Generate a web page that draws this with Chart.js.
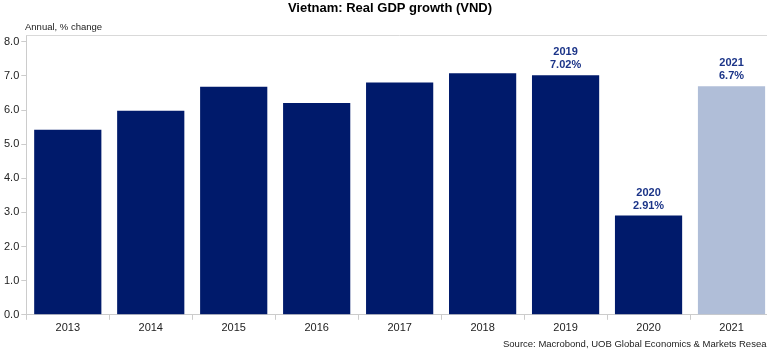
<!DOCTYPE html>
<html>
<head>
<meta charset="utf-8">
<script src="https://cdn.jsdelivr.net/npm/chart.js@4/dist/chart.umd.min.js"></script>
<style>
  html, body { margin: 0; padding: 0; background: #fff; overflow: hidden; }
  #clip { width: 767px; height: 354px; overflow: hidden; position: relative; }
  #wrap { width: 773px; height: 354px; position: relative; }
</style>
</head>
<body>
<div id="clip"><div id="wrap"><canvas id="gdp"></canvas></div></div>
<script>
// ============= DATA =============
const years = ['2013','2014','2015','2016','2017','2018','2019','2020','2021'];
const growth = [5.42, 5.98, 6.68, 6.21, 6.81, 7.08, 7.02, 2.91, 6.70];
const barColors = ['#001a6b','#001a6b','#001a6b','#001a6b','#001a6b','#001a6b','#001a6b','#001a6b','#b0bed8'];
const callouts = { 6: ['2019','7.02%'], 7: ['2020','2.91%'], 8: ['2021','6.7%'] };
const yTicks = [0,1,2,3,4,5,6,7,8];

const FONT = '"Liberation Sans", Arial, sans-serif';

// title, subtitle, source, top frame line and bar callouts
const decor = {
  id: 'decor',
  afterDraw(chart){
    const ctx = chart.ctx, a = chart.chartArea;
    ctx.save();
    ctx.strokeStyle = '#d9d9d9';
    ctx.lineWidth = 1;
    ctx.beginPath();
    ctx.moveTo(a.left, a.top + 0.5);
    ctx.lineTo(a.right, a.top + 0.5);
    ctx.stroke();

    ctx.fillStyle = '#000';
    ctx.font = 'bold 13px ' + FONT;
    ctx.textAlign = 'center';
    ctx.textBaseline = 'middle';
    ctx.fillText('Vietnam: Real GDP growth (VND)', 390, 8);

    ctx.fillStyle = '#222';
    ctx.font = '9.5px ' + FONT;
    ctx.textAlign = 'left';
    ctx.fillText('Annual, % change', 25, 27);
    ctx.fillText('Source: Macrobond, UOB Global Economics & Markets Research', 503, 344);

    const meta = chart.getDatasetMeta(0);
    ctx.fillStyle = '#1b3488';
    ctx.font = 'bold 11px ' + FONT;
    ctx.textAlign = 'center';
    Object.keys(callouts).forEach(i => {
      const bar = meta.data[i];
      const lines = callouts[i];
      ctx.fillText(lines[0], bar.x, bar.y - 23);
      ctx.fillText(lines[1], bar.x, bar.y - 10);
    });
    ctx.restore();
  }
};

new Chart(document.getElementById('gdp'), {
  type: 'bar',
  data: {
    labels: years,
    datasets: [{
      data: growth,
      backgroundColor: barColors,
      borderWidth: 0,
      barPercentage: 0.81,
      categoryPercentage: 1
    }]
  },
  options: {
    responsive: true,
    maintainAspectRatio: false,
    animation: false,
    layout: { padding: { top: 35, right: 0, bottom: 17, left: 2 } },
    plugins: { legend: { display: false }, tooltip: { enabled: false } },
    scales: {
      x: {
        grid: { display: true, drawOnChartArea: false, drawTicks: true, tickLength: 5, color: '#cccccc', offset: true },
        border: { color: '#cccccc' },
        ticks: { color: '#222', font: { family: FONT, size: 11 }, padding: 2, maxRotation: 0 }
      },
      y: {
        min: 0,
        max: 8.2,
        afterBuildTicks: axis => { axis.ticks = yTicks.map(v => ({ value: v })); },
        grid: { display: true, drawOnChartArea: false, drawTicks: true, tickLength: 5, color: '#cccccc' },
        border: { color: '#cccccc' },
        ticks: { color: '#222', font: { family: FONT, size: 11 }, padding: 2, callback: v => Number(v).toFixed(1) }
      }
    }
  },
  plugins: [decor]
});
</script>
</body>
</html>
